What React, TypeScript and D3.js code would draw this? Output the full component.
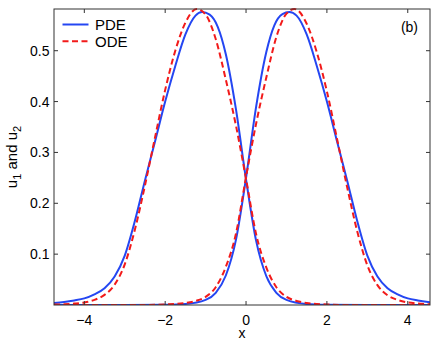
import React from 'react';
import * as d3 from 'd3';

// curves: [x, u]
const pdeU1: [number, number][] = [
  [-4.75, 0], [-3.0, 0], [-2.0, 0.0005], [-1.5, 0.002], [-1.0, 0.01], [-0.75, 0.024], [-0.5, 0.058],
  [-0.25, 0.128], [0, 0.25], [0.25, 0.39], [0.5, 0.497], [0.7, 0.55], [0.9, 0.572], [1.07, 0.576],
  [1.25, 0.569], [1.5, 0.532], [1.75, 0.47], [2.0, 0.4], [2.25, 0.322], [2.5, 0.245], [2.75, 0.165],
  [3.0, 0.097], [3.25, 0.056], [3.5, 0.033], [3.75, 0.021], [4.0, 0.013], [4.25, 0.009], [4.5, 0.006], [4.55, 0.0055],
];
const pdeU2: [number, number][] = [
  [-4.75, 0.004], [-4.5, 0.006], [-4.25, 0.009], [-4.0, 0.013], [-3.75, 0.021], [-3.5, 0.033], [-3.25, 0.056],
  [-3.0, 0.097], [-2.75, 0.165], [-2.5, 0.245], [-2.25, 0.322], [-2.0, 0.4], [-1.75, 0.47], [-1.5, 0.532],
  [-1.25, 0.569], [-1.09, 0.576], [-0.9, 0.571], [-0.7, 0.547], [-0.5, 0.493], [-0.25, 0.385], [0, 0.247],
  [0.25, 0.126], [0.5, 0.057], [0.75, 0.024], [1.0, 0.01], [1.5, 0.002], [2.0, 0.0005], [3.0, 0], [4.55, 0],
];
const odeU1: [number, number][] = [
  [-4.75, 0], [-2.5, 0], [-2.0, 0.001], [-1.5, 0.004], [-1.25, 0.008], [-1.0, 0.016], [-0.75, 0.035],
  [-0.5, 0.075], [-0.25, 0.14], [0, 0.252], [0.25, 0.357], [0.5, 0.447], [0.75, 0.527], [1.0, 0.573],
  [1.2, 0.582], [1.5, 0.553], [1.75, 0.497], [2.0, 0.42], [2.25, 0.327], [2.5, 0.232], [2.75, 0.145],
  [3.0, 0.078], [3.25, 0.039], [3.5, 0.019], [3.75, 0.01], [4.0, 0.005], [4.25, 0.0028], [4.5, 0.0015], [4.55, 0.0013],
];
const odeU2: [number, number][] = [
  [-4.75, 0.0008], [-4.5, 0.0015], [-4.25, 0.0028], [-4.0, 0.005], [-3.75, 0.01], [-3.5, 0.02], [-3.25, 0.04],
  [-3.0, 0.08], [-2.75, 0.148], [-2.5, 0.235], [-2.25, 0.33], [-2.0, 0.423], [-1.75, 0.5], [-1.5, 0.555],
  [-1.22, 0.582], [-1.0, 0.571], [-0.75, 0.523], [-0.5, 0.443], [-0.25, 0.353], [0, 0.248], [0.25, 0.139],
  [0.5, 0.074], [0.75, 0.035], [1.0, 0.016], [1.25, 0.008], [1.5, 0.004], [2.0, 0.001], [2.5, 0], [4.55, 0],
];

const xTicks = [-4, -2, 0, 2, 4];
const yTicks = [0.1, 0.2, 0.3, 0.4, 0.5];
const legendLabels = ['PDE', 'ODE'];

const W = 436, H = 343;
const left = 54, right = 430, top = 9, bottom = 305;
const BLUE = '#2446f2';
const RED = '#f21a1a';
const AXIS = '#333';
const FONT = 'Liberation Sans, Arial, Helvetica, sans-serif';

export default function App() {
  const x = d3.scaleLinear().domain([-4.75, 4.55]).range([left, right]);
  const y = d3.scaleLinear().domain([0, 0.582]).range([bottom, top]);
  const line = d3.line<[number, number]>()
    .x(d => x(d[0]))
    .y(d => y(d[1]))
    .curve(d3.curveMonotoneX);

  const fmt = (v: number) => (v < 0 ? '\u2212' + Math.abs(v) : String(v));
  const tick = 4;

  return (
    <svg width={W} height={H} style={{ position: 'absolute', left: 0, top: 0, background: '#fff' }}
      fontFamily={FONT}>
      <defs>
        <clipPath id="plot">
          <rect x={left} y={top - 1} width={right - left} height={bottom - top + 1} />
        </clipPath>
      </defs>
      <rect x={0} y={0} width={W} height={H} fill="#fff" />

      <g clipPath="url(#plot)" fill="none" strokeWidth={2}>
        <path d={line(pdeU1) || ''} stroke={BLUE} />
        <path d={line(pdeU2) || ''} stroke={BLUE} />
        <path d={line(odeU1) || ''} stroke={RED} strokeDasharray="6,3.5" />
        <path d={line(odeU2) || ''} stroke={RED} strokeDasharray="6,3.5" />
      </g>

      {/* box and ticks */}
      <rect x={left} y={top} width={right - left} height={bottom - top} fill="none" stroke={AXIS} strokeWidth={1} />
      {xTicks.map(t => (
        <g key={'x' + t} stroke={AXIS}>
          <line x1={x(t)} x2={x(t)} y1={bottom} y2={bottom - tick} />
          <line x1={x(t)} x2={x(t)} y1={top} y2={top + tick} />
        </g>
      ))}
      {yTicks.map(t => (
        <g key={'y' + t} stroke={AXIS}>
          <line x1={left} x2={left + tick} y1={y(t)} y2={y(t)} />
          <line x1={right} x2={right - tick} y1={y(t)} y2={y(t)} />
        </g>
      ))}
      {xTicks.map(t => (
        <text key={'xl' + t} x={x(t)} y={325} fontSize={14} textAnchor="middle" fill="#000">{fmt(t)}</text>
      ))}
      {yTicks.map(t => (
        <text key={'yl' + t} x={49.5} y={y(t) + 5} fontSize={14} textAnchor="end" fill="#000">{t}</text>
      ))}

      <text x={(left + right) / 2} y={338} fontSize={14} textAnchor="middle" fill="#000">x</text>
      <text transform={`translate(17,${(top + bottom) / 2}) rotate(-90)`} fontSize={15} textAnchor="middle" fill="#000">
        u<tspan fontSize={11} dy={4}>1</tspan><tspan dy={-4}> and u</tspan><tspan fontSize={11} dy={4}>2</tspan>
      </text>

      <text x={418} y={32} fontSize={14} textAnchor="end" fill="#000">(b)</text>

      {/* legend */}
      {legendLabels.map((lab, i) => (
        <g key={lab}>
          <line x1={62.5} x2={88.5} y1={24.5 + i * 16.7} y2={24.5 + i * 16.7}
            stroke={i === 0 ? BLUE : RED} strokeWidth={2} strokeDasharray={i === 0 ? undefined : '6,3.5'} />
          <text x={95} y={30 + i * 17} fontSize={15} fill="#000">{lab}</text>
        </g>
      ))}
    </svg>
  );
}
